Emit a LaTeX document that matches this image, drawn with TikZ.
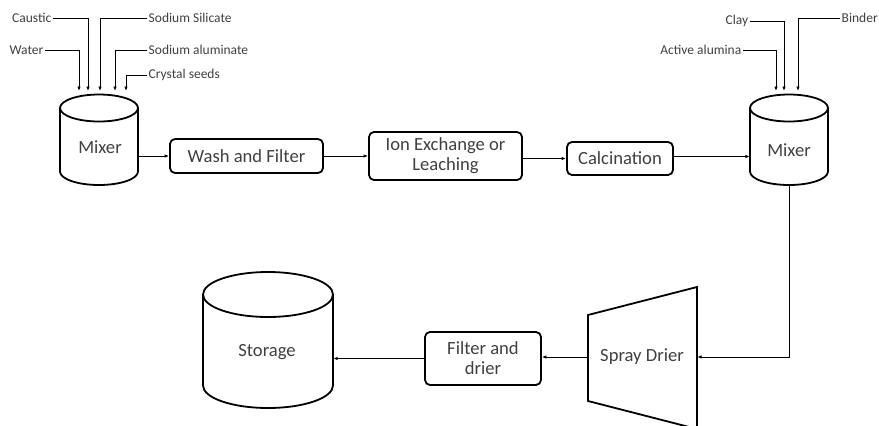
\documentclass[tikz,border=0pt]{standalone}
\usepackage{fontspec}
\setmainfont{Carlito}
\usetikzlibrary{arrows.meta}
\definecolor{txt}{HTML}{404040}
\tikzset{
  unit/.style={line width=1.8pt},
  conn/.style={line width=0.9pt,-{Latex[length=4.5pt,width=3.5pt]}},
  feed/.style={line width=0.9pt,-{Latex[length=4.5pt,width=3.5pt]}},
  procbox/.style={draw,line width=1.8pt,rounded corners=5pt,text=txt,font=\fontsize{18.6}{20}\selectfont,align=center,inner sep=0pt},
  lbl/.style={text=txt,font=\fontsize{13.5}{15}\selectfont,inner sep=1.5pt},
  big/.style={text=txt,font=\fontsize{18.6}{20}\selectfont,align=center},
  ghost/.style={inner sep=0pt,draw=none}
}
\begin{document}
\begin{tikzpicture}[x=1pt,y=1pt]
\useasboundingbox (0,0) rectangle (879,-426);
% --- Mixer 1
\node[ghost,minimum width=78pt,minimum height=90pt] (mix1) at (99,-140) {};
\draw[unit] (60,-108) -- (60,-171.5) arc[start angle=180,end angle=360,x radius=39pt,y radius=13.5pt] -- (138,-108);
\draw[unit] (99,-108) ellipse [x radius=39pt,y radius=13.5pt];
\node[big] at (100,-147) {Mixer};
% --- Mixer 2
\node[ghost,minimum width=78pt,minimum height=90pt] (mix2) at (789,-140) {};
\draw[unit] (750,-108) -- (750,-171.5) arc[start angle=180,end angle=360,x radius=39pt,y radius=13.5pt] -- (828,-108);
\draw[unit] (789,-108) ellipse [x radius=39pt,y radius=13.5pt];
\node[big] at (789,-150) {Mixer};
% --- Storage
\node[ghost,minimum width=130pt,minimum height=136pt] (stor) at (268,-340) {};
\draw[unit] (203,-294.5) -- (203,-385.5) arc[start angle=180,end angle=360,x radius=65pt,y radius=22.5pt] -- (333,-294.5);
\draw[unit] (268,-294.5) ellipse [x radius=65pt,y radius=22.5pt];
\node[big] at (267,-352) {Storage};
% --- Process boxes
\node[procbox,minimum width=153pt,minimum height=34pt] (wash) at (246.5,-156) {Wash and Filter};
\node[procbox,minimum width=153pt,minimum height=48pt] (ion) at (445.5,-156) {Ion Exchange or\\Leaching};
\node[procbox,minimum width=106pt,minimum height=33pt] (calc) at (620,-158.5) {Calcination};
\node[procbox,minimum width=116pt,minimum height=53pt] (filt) at (483,-358.5) {Filter and\\drier};
% --- Spray drier
\draw[unit] (588,-315) -- (697,-287) -- (697,-429) -- (588,-401) -- cycle;
\node[ghost,minimum width=109pt,minimum height=86pt] (spray) at (642.5,-357) {};
\node[big] at (642,-357) {Spray Drier};
% --- Main flow
\draw[conn] (mix1.east |- wash.west) -- (wash.west);
\draw[conn] (wash.east) -- (ion.west);
\draw[conn] (ion.east |- calc.west) -- (calc.west);
\draw[conn] ([yshift=2pt]calc.east) -- ([yshift=2pt]calc.east -| mix2.west);
\draw[conn] (mix2.south) -- (mix2.south |- spray.east) -- (spray.east);
\draw[conn] (spray.west) -- (spray.west -| filt.east);
\draw[conn] (filt.west) -- (filt.west -| stor.east);
% --- Feeds to mixer 1
\node[lbl,anchor=east] (caustic) at (53,-18) {Caustic};
\node[lbl,anchor=east] (water) at (45,-50) {Water};
\node[lbl,anchor=west] (silicate) at (147,-18) {Sodium Silicate};
\node[lbl,anchor=west] (aluminate) at (147,-50) {Sodium aluminate};
\node[lbl,anchor=west] (seeds) at (147,-75) {Crystal seeds};
\coordinate (m1top) at (99,-91);
\draw[feed] (caustic.east) -| (m1top -| 88,0);
\draw[feed] (water.east) -| (m1top -| 79,0);
\draw[feed] (silicate.west) -| (m1top -| 100,0);
\draw[feed] (aluminate.west) -| (m1top -| 115,0);
\draw[feed] (seeds.west) -| (m1top -| 126,0);
% --- Feeds to mixer 2
\node[lbl,anchor=east] (alumina) at (743,-50) {Active alumina};
\node[lbl,anchor=east] (clay) at (750,-21) {Clay};
\node[lbl,anchor=west] (binder) at (840,-18) {Binder};
\coordinate (m2top) at (789,-91);
\draw[feed] (alumina.east) -| (m2top -| 776,0);
\draw[feed] (clay.east) -| (m2top -| 784,0);
\draw[feed] (binder.west) -| (m2top -| 798,0);
\end{tikzpicture}
\end{document}
